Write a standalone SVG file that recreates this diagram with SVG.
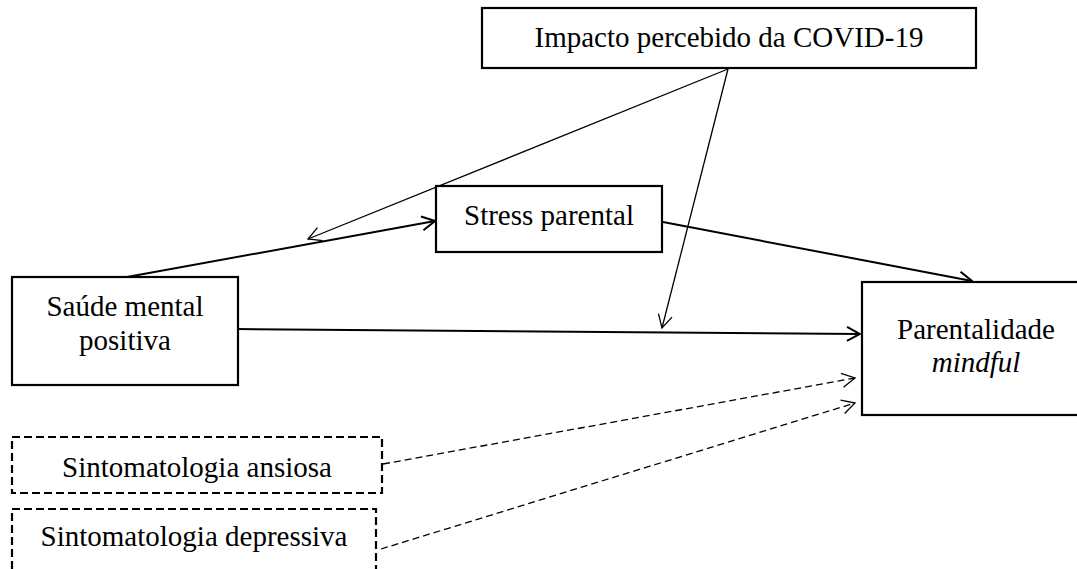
<svg xmlns="http://www.w3.org/2000/svg" width="1077" height="569" viewBox="0 0 1077 569">
<style>
.box{fill:#fff;stroke:#000;stroke-width:2.2}
.dbox{fill:none;stroke:#000;stroke-width:2.2;stroke-dasharray:8 4}
.t{font-size:29px;fill:#000;text-anchor:middle}
.thick{fill:none;stroke:#000;stroke-width:2}
.thin{fill:none;stroke:#000;stroke-width:1.3}
.dash{fill:none;stroke:#000;stroke-width:1.3;stroke-dasharray:7 4}
</style>
<defs>
<marker id="ah" viewBox="0 0 16 16" refX="15" refY="8" markerWidth="16" markerHeight="16" markerUnits="userSpaceOnUse" orient="auto">
<path d="M2,1 L15,8 L2,15" fill="none" stroke="#000" stroke-width="2"/>
</marker>
<marker id="ahs" viewBox="0 0 16 16" refX="15" refY="8" markerWidth="16" markerHeight="16" markerUnits="userSpaceOnUse" orient="auto">
<path d="M2,1 L15,8 L2,15" fill="none" stroke="#000" stroke-width="1.3"/>
</marker>
</defs>
<rect width="1077" height="569" fill="#fff"/>
<g id="connectors">
<line class="thick" x1="127" y1="277" x2="435" y2="221" marker-end="url(#ah)"/>
<line class="thick" x1="663" y1="222" x2="972" y2="281" marker-end="url(#ah)"/>
<line class="thick" x1="238" y1="329" x2="860" y2="334" marker-end="url(#ah)"/>
<line class="thin" x1="728" y1="69" x2="308" y2="239" marker-end="url(#ahs)"/>
<line class="thin" x1="728" y1="69" x2="662" y2="328" marker-end="url(#ahs)"/>
<line class="dash" x1="383" y1="464" x2="855" y2="378" marker-end="url(#ahs)"/>
<line class="dash" x1="381" y1="549" x2="855" y2="403" marker-end="url(#ahs)"/>
</g>
<g font-family="Liberation Serif, Times New Roman, DejaVu Serif, serif">
<g id="impacto">
<rect class="box" x="482" y="8" width="494" height="60"/>
<text class="t" x="729" y="47">Impacto percebido da COVID-19</text>
</g>
<g id="stress">
<rect class="box" x="436" y="186" width="226" height="66"/>
<text class="t" x="549" y="225">Stress parental</text>
</g>
<g id="saude">
<rect class="box" x="12" y="277" width="226" height="108"/>
<text class="t" x="125" y="316">Saúde mental</text>
<text class="t" x="125" y="350">positiva</text>
</g>
<g id="parentalidade">
<rect class="box" x="862" y="282" width="230" height="133"/>
<text class="t" x="976" y="339">Parentalidade</text>
<text class="t" x="976" y="372" font-style="italic">mindful</text>
</g>
<g id="ansiosa">
<rect class="dbox" x="12" y="437" width="370" height="56"/>
<text class="t" x="197" y="477">Sintomatologia ansiosa</text>
</g>
<g id="depressiva">
<rect class="dbox" x="12" y="509" width="364" height="80"/>
<text class="t" x="194" y="546">Sintomatologia depressiva</text>
</g>
</g>
</svg>
